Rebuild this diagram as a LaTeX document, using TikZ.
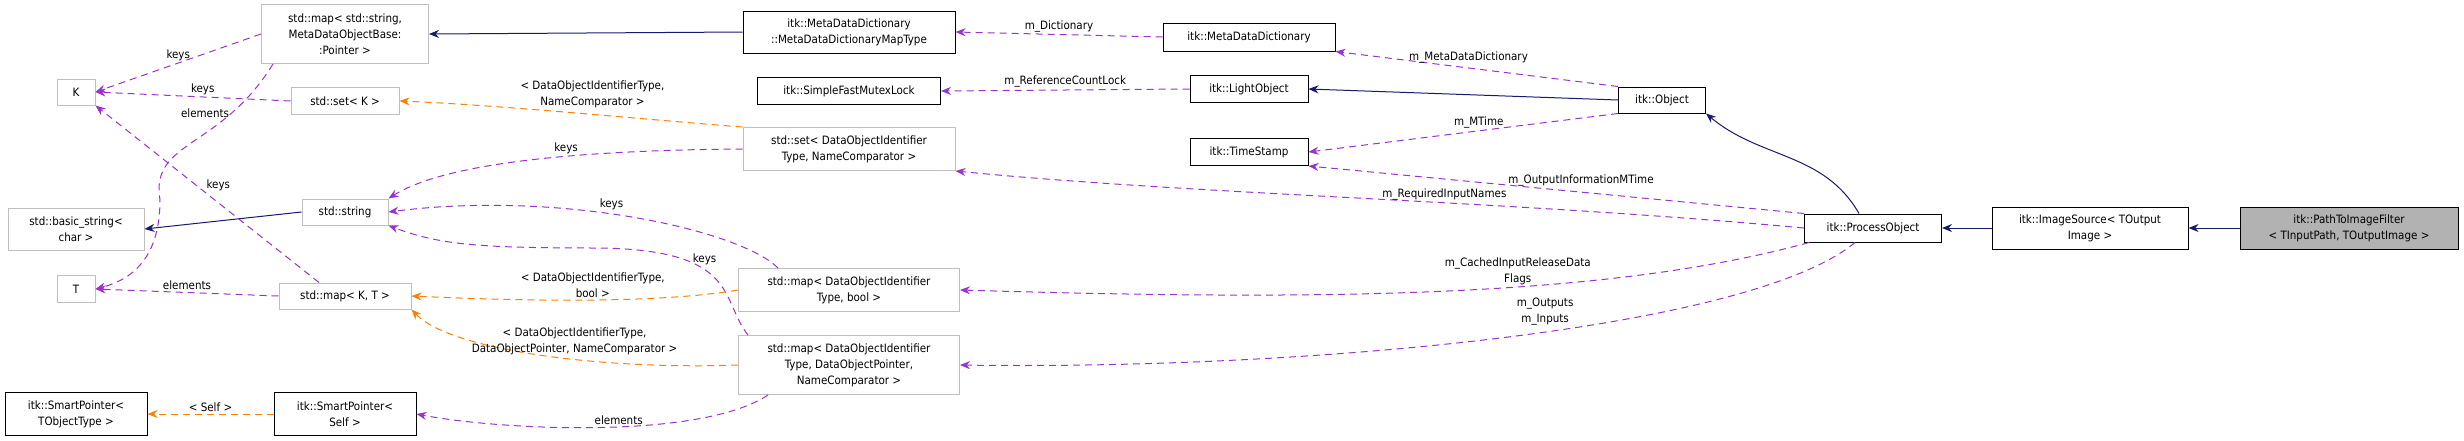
\documentclass[tikz,border=0pt]{standalone}
\usepackage{fontspec}
\setmainfont{DejaVu Sans Condensed}
\usetikzlibrary{arrows.meta}

\begin{document}
\begin{tikzpicture}[
  x=1pt, y=-1pt,
  font=\fontsize{11.5}{16}\selectfont,
  box/.style={draw, line width=1pt, inner sep=1pt, align=center},
  tmpl/.style={box, draw=black!25},
  cls/.style={box, draw=black},
  self/.style={box, draw=black, fill=black!30},
  inherit/.style={draw={rgb,255:red,25;green,25;blue,112}, line width=1pt, -{Stealth[length=10pt,width=8pt]}},
  member/.style={draw={rgb,255:red,154;green,50;blue,205}, dashed, dash pattern=on 7pt off 5pt, line width=1pt, -{Stealth[length=10pt,width=8pt]}},
  inst/.style={member, draw=orange},
  lbl/.style={font=\fontsize{11.5}{16}\selectfont, align=center, inner sep=2pt}
  ]
  \useasboundingbox (0,0) rectangle (2464,440);

  % left column
  \node[tmpl, minimum width=38, minimum height=26] (K) at (76,92) {K};
  \node[tmpl, minimum width=136, minimum height=42] (basicstr) at (76,229) {std::basic\_string\textless\\char \textgreater};
  \node[tmpl, minimum width=38, minimum height=27] (T) at (76,289) {T};
  \node[cls, minimum width=142, minimum height=43] (spT) at (76,414) {itk::SmartPointer\textless\\TObjectType \textgreater};

  % second column
  \node[tmpl, minimum width=167, minimum height=59] (mapStr) at (345,34) {std::map\textless{} std::string,\\MetaDataObjectBase:\\:Pointer \textgreater};
  \node[tmpl, minimum width=108, minimum height=27] (setK) at (345,101) {std::set\textless{} K \textgreater};
  \node[tmpl, minimum width=86, minimum height=26] (string) at (345,212) {std::string};
  \node[tmpl, minimum width=132, minimum height=26] (mapKT) at (345,296) {std::map\textless{} K, T \textgreater};
  \node[cls, minimum width=142, minimum height=43] (spSelf) at (345,414) {itk::SmartPointer\textless\\Self \textgreater};

  % third column
  \node[cls, minimum width=212, minimum height=42] (mddMap) at (849,32) {itk::MetaDataDictionary\\::MetaDataDictionaryMapType};
  \node[cls, minimum width=183, minimum height=27] (mutex) at (849,91) {itk::SimpleFastMutexLock};
  \node[tmpl, minimum width=212, minimum height=43] (setDOI) at (849,149) {std::set\textless{} DataObjectIdentifier\\Type, NameComparator \textgreater};
  \node[tmpl, minimum width=221, minimum height=43] (mapBool) at (849,290) {std::map\textless{} DataObjectIdentifier\\Type, bool \textgreater};
  \node[tmpl, minimum width=221, minimum height=59] (mapPtr) at (849,365) {std::map\textless{} DataObjectIdentifier\\Type, DataObjectPointer,\\NameComparator \textgreater};

  % fourth column
  \node[cls, minimum width=172, minimum height=28] (mdd) at (1249,37) {itk::MetaDataDictionary};
  \node[cls, minimum width=118, minimum height=27] (light) at (1249,89) {itk::LightObject};
  \node[cls, minimum width=118, minimum height=27] (stamp) at (1249,152) {itk::TimeStamp};

  % right part
  \node[cls, minimum width=87, minimum height=26] (object) at (1662,100) {itk::Object};
  \node[cls, minimum width=137, minimum height=28] (process) at (1873,228) {itk::ProcessObject};
  \node[cls, minimum width=196, minimum height=42] (source) at (2090,228) {itk::ImageSource\textless{} TOutput\\Image \textgreater};
  \node[self, minimum width=218, minimum height=42] (filter) at (2349,228) {itk::PathToImageFilter\\\textless{} TInputPath, TOutputImage \textgreater};

  % helper points on box borders
  \path (process.north west) ++(55,0) coordinate (poTop);
  \path (mapStr.south west) ++(12,0) coordinate (msB);
  \path (mapKT.north) ++(-26,0) coordinate (mkT);
  \path (mapBool.north west) ++(40,0) coordinate (mbT);
  \path (mapPtr.north west) ++(10,0) coordinate (mpT);
  \path (mapPtr.south west) ++(30,0) coordinate (mpB);
  \path (process.south west) ++(5,0) coordinate (poB1);
  \path (process.south) ++(-18,0) coordinate (poB2);

  % inheritance
  \draw[inherit] (filter) -- (source);
  \draw[inherit] (source) -- (process);
  \draw[inherit] (poTop) to[out=120, in=-40] (object.south east);
  \draw[inherit] (object.west) -- (light.east);
  \draw[inherit] (mddMap.west) -- (mapStr.east);
  \draw[inherit] (string.west) -- (basicstr.east);

  % members
  \draw[member] (mapStr.west) -- node[lbl, above] {keys} (K.east);
  \draw[member] (setK.west) -- node[lbl, above, pos=0.45] {keys} (K.east);
  \draw[member] (msB) .. controls (220,150) and (150,140) .. node[lbl, pos=0.25, left] {elements} (160,200) .. controls (160,260) and (130,280) .. (T.east);
  \draw[member] (mkT) -- node[lbl, pos=0.55, right, xshift=8pt] {keys} (K.south east);
  \draw[member] (mapKT.west) -- node[lbl, above] {elements} (T.east);
  \draw[member] (setDOI.west) .. controls (600,150) and (450,160) .. node[lbl, pos=0.42, above] {keys} (string.north east);
  \draw[member] (mbT) .. controls (740,230) and (560,190) .. node[lbl, pos=0.55, above=2pt] {keys} (string.east);
  \draw[member] (mpT) .. controls (720,300) and (740,250) .. node[lbl, pos=0.6, above=2pt] {keys} (600,248) .. controls (480,248) and (440,245) .. (string.south east);
  \draw[member] (mpB) .. controls (700,440) and (500,430) .. node[lbl, pos=0.45, above] {elements} (spSelf.east);
  \draw[member] (mdd.west) -- node[lbl, above] {m\_Dictionary} (mddMap.east);
  \draw[member] (light.west) -- node[lbl, above] {m\_ReferenceCountLock} (mutex.east);
  \draw[member] (object.north west) -- node[lbl, above, pos=0.6, xshift=20pt] {m\_MetaDataDictionary} (mdd.south east);
  \draw[member] (object.south west) -- node[lbl, above, pos=0.45] {m\_MTime} (stamp.east);
  \draw[member] (process.north west) -- node[lbl, above=3pt, pos=0.45] {m\_OutputInformationMTime} (stamp.south east);
  \draw[member] (process.west) .. controls (1500,200) and (1200,195) .. node[lbl, pos=0.4, above] {m\_RequiredInputNames} (setDOI.south east);
  \draw[member] (poB1) .. controls (1600,300) and (1300,300) .. node[lbl, pos=0.4, above] {m\_CachedInputReleaseData\\Flags} (mapBool.east);
  \draw[member] (poB2) .. controls (1750,330) and (1300,370) .. node[lbl, pos=0.45, above=4pt] {m\_Outputs\\m\_Inputs} (mapPtr.east);

  % template instances
  \draw[inst] (setDOI.north west) .. controls (650,120) and (500,105) .. node[lbl, pos=0.45, above=4pt] {\textless{} DataObjectIdentifierType,\\NameComparator \textgreater} (setK.east);
  \draw[inst] (mapBool.west) .. controls (650,305) and (500,300) .. node[lbl, pos=0.45, above] {\textless{} DataObjectIdentifierType,\\bool \textgreater} (mapKT.east);
  \draw[inst] (mapPtr.west) .. controls (600,370) and (450,350) .. node[lbl, pos=0.4, above=2pt] {\textless{} DataObjectIdentifierType,\\DataObjectPointer, NameComparator \textgreater} (mapKT.south east);
  \draw[inst] (spSelf.west) -- node[lbl, above] {\textless{} Self \textgreater} (spT.east);
\end{tikzpicture}
\end{document}
